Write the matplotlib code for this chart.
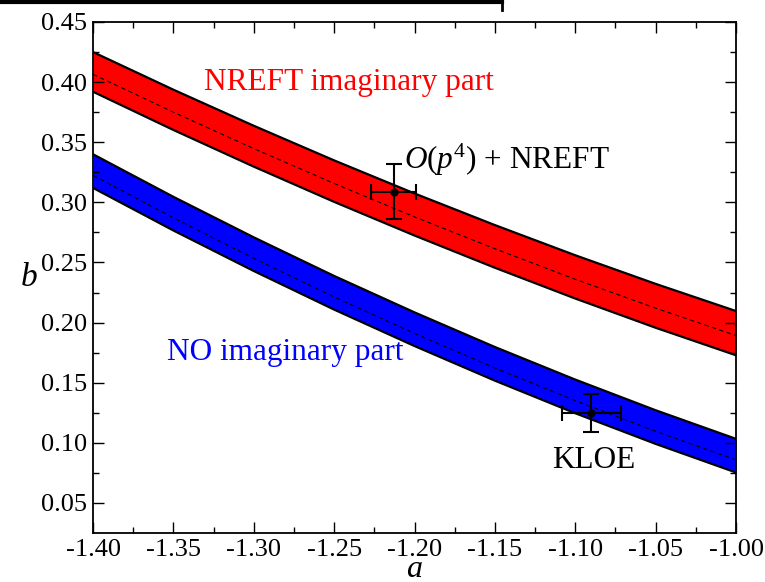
import matplotlib
matplotlib.use("Agg")
import matplotlib.pyplot as plt
from matplotlib.lines import Line2D
import numpy as np

plt.rcParams['font.family'] = ['Liberation Serif', 'DejaVu Serif']
plt.rcParams['mathtext.fontset'] = 'custom'
plt.rcParams['mathtext.rm'] = 'Liberation Serif'
plt.rcParams['mathtext.it'] = 'Liberation Serif:italic'

# band data
a_vals = [-1.40, -1.35, -1.30, -1.25, -1.20, -1.15, -1.10, -1.05, -1.00]

red_upper = [0.425, 0.3937, 0.3637, 0.3349, 0.3074, 0.2811, 0.2560, 0.2322, 0.2096]
red_lower = [0.392, 0.3602, 0.3297, 0.3004, 0.2724, 0.2456, 0.2200, 0.1957, 0.1728]
red_center = [0.4065, 0.3750, 0.3447, 0.3157, 0.2879, 0.2614, 0.2360, 0.2120, 0.1892]

blue_upper = [0.340, 0.3046, 0.2709, 0.2388, 0.2085, 0.1797, 0.1526, 0.1271, 0.1033]
blue_lower = [0.312, 0.2766, 0.2429, 0.2108, 0.1805, 0.1517, 0.1246, 0.0991, 0.0753]
blue_center = [0.3225, 0.2871, 0.2534, 0.2213, 0.1910, 0.1622, 0.1351, 0.1096, 0.0858]

# measured points (a, b, a_err, b_err)
nreft_pt = [-1.213, 0.309, 0.014, 0.023]
kloe_pt = [-1.090, 0.125, 0.0185, 0.016]

xticks = [-1.40, -1.35, -1.30, -1.25, -1.20, -1.15, -1.10, -1.05, -1.00]
yticks = [0.05, 0.10, 0.15, 0.20, 0.25, 0.30, 0.35, 0.40, 0.45]

fig = plt.figure(figsize=(7.65, 5.82), dpi=100)
ax = fig.add_axes([0.1216, 0.0842, 0.8405, 0.878])

ax.fill_between(a_vals, red_lower, red_upper, color='#ff0000', lw=0)
ax.plot(a_vals, red_upper, color='k', lw=1.6)
ax.plot(a_vals, red_lower, color='k', lw=1.6)
ax.plot(a_vals, red_center, color='k', lw=0.8, ls=(0, (4, 3)))

ax.fill_between(a_vals, blue_lower, blue_upper, color='#0000ff', lw=0)
ax.plot(a_vals, blue_upper, color='k', lw=1.6)
ax.plot(a_vals, blue_lower, color='k', lw=1.6)
ax.plot(a_vals, blue_center, color='k', lw=0.8, ls=(0, (4, 3)))

for pt in (nreft_pt, kloe_pt):
    ax.errorbar(pt[0], pt[1], xerr=pt[2], yerr=pt[3], fmt='o', color='k',
                ms=5, elinewidth=1.5, capsize=6, capthick=1.5, zorder=5)

ax.text(-1.2411, 0.3994, 'NREFT imaginary part', color='#ff0000', fontsize=22.5,
        ha='center', va='center')
ax.text(-1.2802, 0.1753, 'NO imaginary part', color='#0000ff', fontsize=22.5,
        ha='center', va='center')
ax.text(-1.2065, 0.3355, r'$O(p^4)$ + NREFT', color='k', fontsize=22.5,
        ha='left', va='center')
ax.text(-1.1145, 0.0849, 'KLOE', color='k', fontsize=22.5, ha='left', va='center')

ax.set_xlim(-1.40, -1.00)
ax.set_ylim(0.025, 0.45)
ax.set_xticks(xticks)
ax.set_xticklabels(['%.2f' % v for v in xticks])
ax.set_yticks(yticks)
ax.set_yticklabels(['%.2f' % v for v in yticks])
ax.set_xticks(np.arange(-1.375, -1.0, 0.05), minor=True)
ax.set_yticks(np.arange(0.075, 0.45, 0.05), minor=True)
ax.tick_params(which='both', direction='in', top=True, right=True, labelsize=19, width=1)
ax.tick_params(which='major', length=8, pad=4)
ax.tick_params(which='minor', length=4)
for s in ax.spines.values():
    s.set_linewidth(1.3)

ax.set_xlabel('a', fontsize=23, style='italic', va='center')
ax.xaxis.set_label_coords(0.5, -0.072)
ax.set_ylabel('b', fontsize=24, style='italic', rotation=0, va='center', ha='center')
ax.yaxis.set_label_coords(-0.1, 0.5)

# frame remnant along the top edge
fig.add_artist(Line2D([0, 502 / 765], [1 - 1.5 / 582, 1 - 1.5 / 582], color='k', lw=3,
                      transform=fig.transFigure))
fig.add_artist(Line2D([502 / 765, 502 / 765], [1, 1 - 10 / 582], color='k', lw=2,
                      transform=fig.transFigure))

fig.savefig('out.png', dpi=100)
